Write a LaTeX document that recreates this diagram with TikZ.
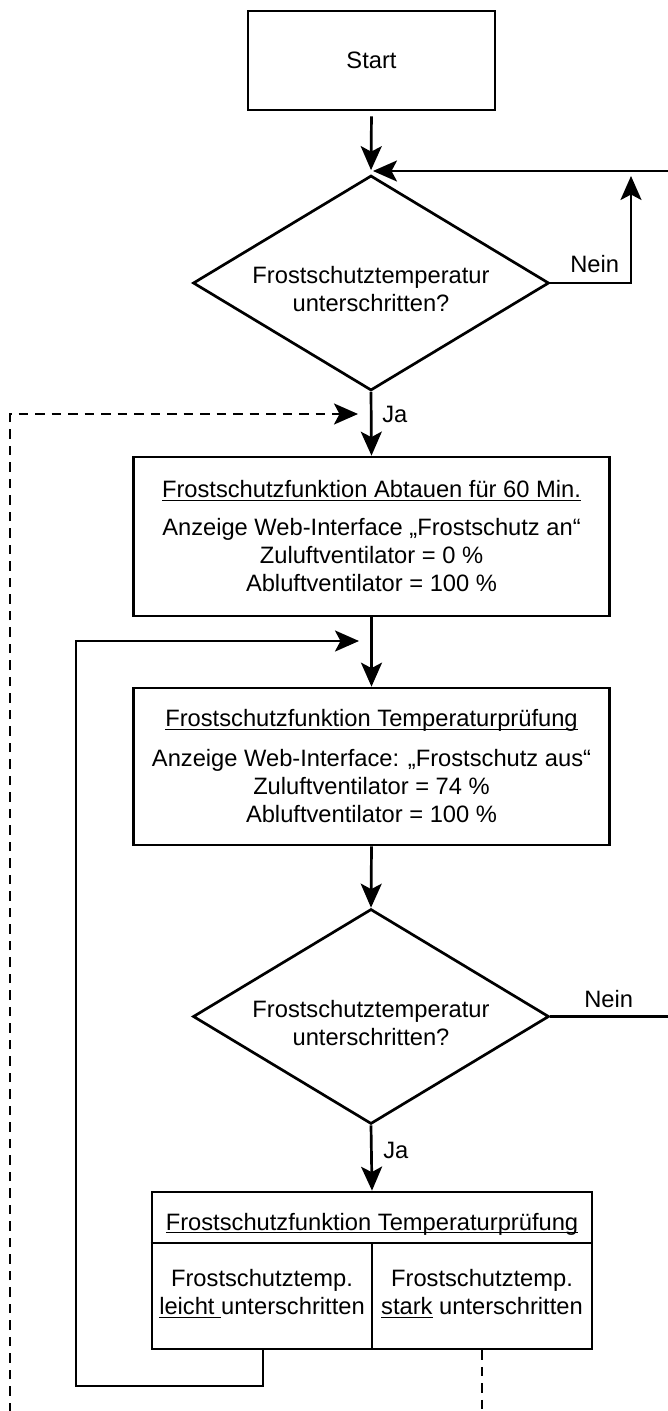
\documentclass[tikz,border=0pt]{standalone}
\usepackage{fontspec}
\setmainfont{Liberation Sans}
\usetikzlibrary{arrows.meta,shapes.geometric}
\newcommand\myul[1]{\setbox0\hbox{#1}\rlap{\smash{\rule[-3.4pt]{\wd0}{1.3pt}}}\box0\relax}
\begin{document}
\begin{tikzpicture}[x=1pt,y=-1pt,line width=2.7pt,
  font=\fontsize{23.7}{28}\selectfont,
  box/.style={draw,rectangle,minimum width=476pt,minimum height=159pt,inner sep=0pt,align=center},
  dia/.style={draw,diamond,minimum width=356pt,minimum height=215pt,inner sep=0pt},
  txt/.style={inner sep=0pt,align=center},
  lbl/.style={inner sep=0pt,anchor=base west},
  arr/.style={-{Stealth[length=24pt,width=21pt,inset=5.5pt]}},
  dsh/.style={dash pattern=on 9.5pt off 7pt,line width=2.6pt},
  thinline/.style={line width=1.1pt}]
\useasboundingbox (0,0) rectangle (668,1411);
\fill[white] (0,0) rectangle (668,1411);

% nodes
\node[draw,rectangle,minimum width=247pt,minimum height=99pt,inner sep=0pt] (start) at (371.5,60.5) {Start};

\node[dia] (d1) at (371,283) {};
\node[txt] (d1t) at (371,289) {Frostschutztemperatur\\unterschritten?};

\node[box] (b2) at (371.5,536.5) {\myul{Frostschutzfunktion Abtauen für 60 Min.}\\[10pt]
  Anzeige Web-Interface „Frostschutz an“\\Zuluftventilator = 0 \%\\Abluftventilator = 100 \%};

\node[box,minimum height=157pt] (b3) at (371.5,766.5) {\myul{Frostschutzfunktion Temperaturprüfung}\\[12pt]
  Anzeige Web-Interface: „Frostschutz aus“\\Zuluftventilator = 74 \%\\Abluftventilator = 100 \%};

\node[dia] (d2) at (371,1016.5) {};
\node[txt] (d2t) at (371,1023) {Frostschutztemperatur\\unterschritten?};

\node[draw,rectangle,minimum width=440pt,minimum height=157pt,inner sep=0pt] (b4) at (372,1270.5) {};
\node[inner sep=0pt,anchor=base] (b4h) at (372,1230) {\myul{Frostschutzfunktion Temperaturprüfung}};
\coordinate (hl) at (372,1243);
\draw[thinline] (b4.west |- hl) -- (b4.east |- hl);
\draw[thinline] (hl) -- (hl |- b4.south);
\node[txt] (c1) at (262,1292.4) {Frostschutztemp.\\\myul{leicht\ }unterschritten};
\node[txt] (c2) at (482,1292.4) {Frostschutztemp.\\\myul{stark} unterschritten};

% labels
\node[lbl] (nein1) at (569,272) {Nein};
\node[lbl] (nein2) at (583,1007) {Nein};
\node[lbl] (ja1) at (381,422) {Ja};
\node[lbl] (ja2) at (382,1158) {Ja};

% coordinates
\coordinate (n1) at (631,176);
\coordinate (re1) at (669,171);
\coordinate (j1) at (373,171);
\coordinate (re2) at (669,1016.5);
\coordinate (dl) at (10,1412);
\coordinate (dt) at (10,414);
\coordinate (dj) at (358,414);
\coordinate (lp) at (263,1386);
\coordinate (ll) at (76,641);
\coordinate (lj) at (359,641);
\coordinate (dr) at (482,1412);

% connectors
\draw[arr,shorten <=5pt,shorten >=4pt] (start.south) -- (d1.north);
\draw[arr] (d1.east) -| (n1);
\draw[arr] (re1) -- (j1);
\draw[arr] (d1.south) -- (b2.north);
\draw[dsh,arr] (dl) -- (dt) -- (dj);
\draw[arr] (b2.south) -- (b3.north);
\draw[arr] (b3.south) -- (d2.north);
\draw (d2.east) -- (re2);
\draw[arr] (d2.south) -- (b4.north);
\draw[arr] (lp |- b4.south) -- (lp) -| (ll) -- (lj);
\draw[dsh] (dr |- b4.south) -- (dr);
\end{tikzpicture}
\end{document}
